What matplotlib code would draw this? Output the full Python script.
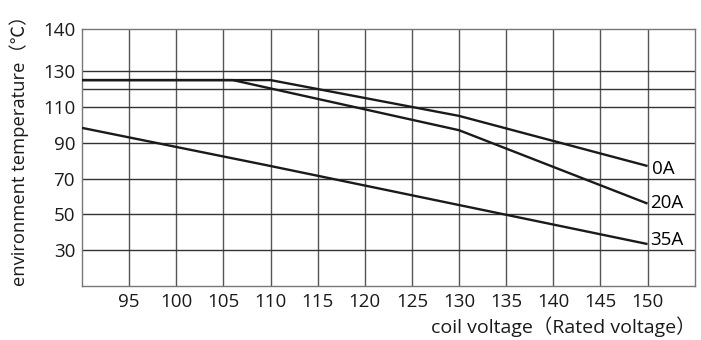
import matplotlib.pyplot as plt

plt.rcParams['font.family'] = ['Open Sans', 'DejaVu Sans']

# coil voltage (% of rated) vs max environment temperature
volt_0a = [90, 110, 130, 150]
temp_0a = [125, 125, 105, 77]
volt_20a = [90, 106, 130, 150]
temp_20a = [125, 125, 97, 56]
volt_35a = [90, 110, 130, 150]
temp_35a = [98.3, 77, 55.2, 33.4]

x_ticks = [95, 100, 105, 110, 115, 120, 125, 130, 135, 140, 145, 150]
y_grid = [30, 50, 70, 90, 110, 120, 130]
y_ticks = [30, 50, 70, 90, 110, 130, 153.6]
y_labels = ['30', '50', '70', '90', '110', '130', '140']

fig = plt.figure(figsize=(7.01, 3.40), dpi=100)
ax = fig.add_axes([0.117, 0.159, 0.874, 0.756])

for x in x_ticks:
    ax.axvline(x, color='#555555', lw=1.0, zorder=1)
for y in y_grid:
    ax.axhline(y, color='#333333', lw=1.0, zorder=1)

for xs, ys in [(volt_0a, temp_0a), (volt_20a, temp_20a), (volt_35a, temp_35a)]:
    ax.plot(xs, ys, color='#1a1a1a', lw=1.7, zorder=3, solid_capstyle='butt')

ax.text(150.5, 76.6, '0A', fontsize=13.5, va='center_baseline', ha='left')
ax.text(150.3, 57.4, '20A', fontsize=13.5, va='center_baseline', ha='left')
ax.text(150.3, 36.9, '35A', fontsize=13.5, va='center_baseline', ha='left')

ax.set_xlim(90, 155)
ax.set_ylim(10, 153.6)
ax.set_xticks(x_ticks)
ax.set_yticks(y_ticks)
ax.set_yticklabels(y_labels)
ax.tick_params(length=0, labelsize=13.5, colors='#1a1a1a')
ax.tick_params(axis='x', pad=5)
ax.tick_params(axis='y', pad=5)

for s in ax.spines.values():
    s.set_color('#777777')
    s.set_linewidth(1.0)

fig.text(0.028, 0.57, 'environment temperature（℃）', rotation=90,
         ha='center', va='center', fontsize=13.2, color='#1a1a1a',
         family=['Open Sans', 'Noto Sans CJK SC', 'DejaVu Sans'])
fig.text(0.992, 0.038, 'coil voltage（Rated voltage）', ha='right', va='center',
         fontsize=14, color='#1a1a1a',
         family=['Open Sans', 'Noto Sans CJK SC', 'DejaVu Sans'])

fig.savefig('out.png', dpi=100)
